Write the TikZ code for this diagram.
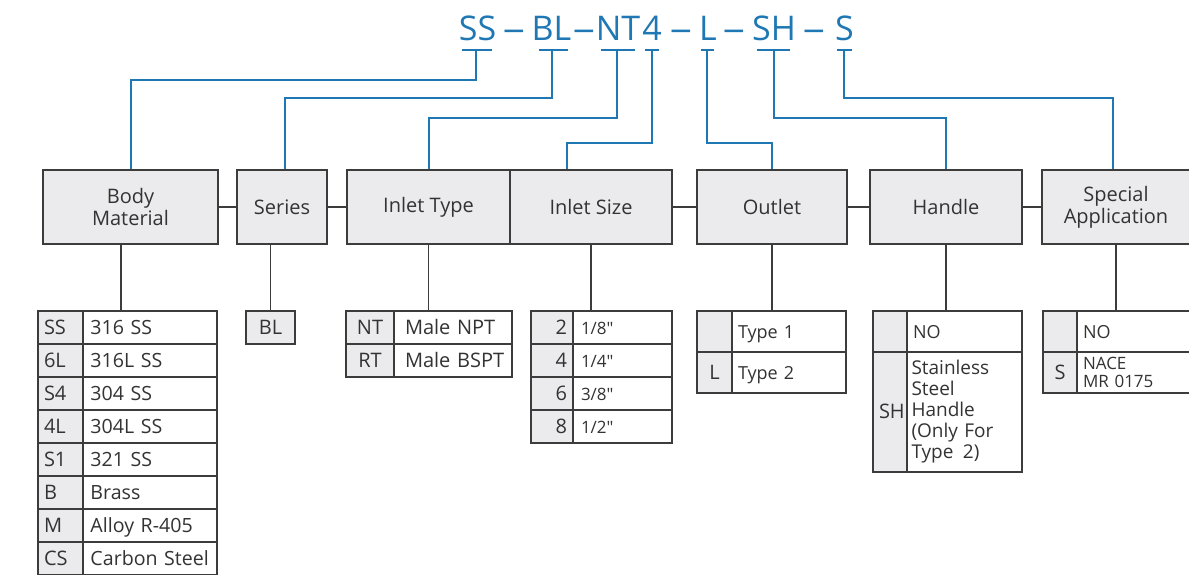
\documentclass[tikz,border=0pt]{standalone}
\usepackage{fontspec}
\setmainfont{Open Sans}
\usetikzlibrary{positioning}
\definecolor{codeblue}{HTML}{1F78B4}
\definecolor{linegray}{HTML}{3C3C3C}
\definecolor{boxgray}{HTML}{EBEBED}
\definecolor{txtgray}{HTML}{333333}
\tikzset{
  code/.style={text=codeblue, font=\fontsize{17}{20}\selectfont, inner sep=0, anchor=base},
  link/.style={draw=codeblue, line width=1pt},
  rule/.style={draw=linegray, line width=0.75pt},
  head/.style={draw=linegray, fill=boxgray, text=txtgray, line width=0.75pt, minimum height=37pt, inner sep=0, align=center, font=\fontsize{10}{11}\selectfont},
  cell/.style={draw=linegray, line width=0.75pt, text=txtgray, inner ysep=0, inner xsep=3pt, outer sep=0pt, minimum height=16.5pt, font=\fontsize{10}{11}\selectfont},
  key/.style={cell, fill=boxgray, anchor=north west, text height=1.5ex, text depth=.25ex},
  val/.style={cell, fill=white, align=left, text height=1.5ex, text depth=.25ex},
}
\begin{document}
\begin{tikzpicture}[x=0.5pt,y=-0.5pt]
    \clip (0,0) rectangle (1189,574);
    % The order code along the top.
        \node[code] (cSS) at (477.5,40) {SS};
        \node[code] (cBL) at (551.5,40) {BL};
        \node[code] (cNT) at (618,40) {NT};
        \node[code] (cFour) at (652,40) {4};
        \node[code] (cL) at (708,40) {L};
        \node[code] (cSH) at (774,40) {SH};
        \node[code] (cS) at (844.5,40) {S};
        \foreach \x in {514,584,681,734,814}
            \node[code] (dash\x) at (\x,40) {\scalebox{1.3}[1]{–}};
    % Bars under each part of the code.
        \foreach \a/\b in {462/492,539/568,601/635,645/659,701/714,757/790,837/852}
            \draw[link] (\a,50) -- (\b,50);
        \coordinate (tSS) at (476,50);
        \coordinate (tBL) at (552,50);
        \coordinate (tNT) at (617,50);
        \coordinate (tFour) at (652,50);
        \coordinate (tL) at (707,50);
        \coordinate (tSH) at (774,50);
        \coordinate (tS) at (844,50);
    % The heading boxes.
        \node[head, minimum width=87.5pt] (body) at (130.5,207) {Body\\Material};
        \node[head, minimum width=45pt] (series) at (282,207) {Series};
        \node[head, minimum width=81.5pt] (itype) at (428.5,207) {Inlet Type};
        \node[head, minimum width=81pt] (isize) at (591,207) {Inlet Size};
        \node[head, minimum width=75pt] (outlet) at (772,207) {Outlet};
        \node[head, minimum width=76pt] (handle) at (946,207) {Handle};
        \node[head, minimum width=74pt] (special) at (1116,207) {Special\\Application};
        \draw[rule] (body) -- (series);
        \draw[rule] (series) -- (itype);
        \draw[rule] (isize) -- (outlet);
        \draw[rule] (outlet) -- (handle);
        \draw[rule] (handle) -- (special);
    % Blue lines from the code down to the headings.
        \draw[link] (tSS) -- ++(0,30) -| (body.north);
        \draw[link] (tBL) -- ++(0,48) -| ([xshift=1.5pt]series.north);
        \draw[link] (tNT) -- ++(0,68) -| (itype.north);
        \draw[link] (tFour) -- ++(0,93) -| ([xshift=-12pt]isize.north);
        \draw[link] (tL) -- ++(0,93) -| (outlet.north);
        \draw[link] (tSH) -- ++(0,68) -| (handle.north);
        \draw[link] (tS) -- ++(0,48) -| ([xshift=-1.5pt]special.north);
    % Body material table.
        \foreach \k/\v [count=\i] in {SS/316 SS, 6L/316L SS, S4/304 SS, 4L/304L SS, S1/321 SS, B/Brass, M/Alloy R-405, CS/Carbon Steel} {
            \node[key, text width=16.5pt, align=left] (bmk\i) at (38,{311+33*(\i-1)}) {\k};
            \node[val, text width=62.5pt, inner xsep=2.25pt, font=\fontsize{9.8}{11}\selectfont, right=0pt of bmk\i] (bmv\i) {\hspace{1.5pt}\v};
        }
        \coordinate (bmtop) at (121,311);
        \draw[rule] (bmtop) -- (bmtop |- body.south);
    % Series.
        \node[key, minimum width=24.5pt, anchor=center] (bl) at (270.5,327.5) {BL};
        \draw[rule] (bl) -- (bl |- series.south);
    % Inlet type table.
        \foreach \k/\v [count=\i] in {NT/Male NPT, RT/Male BSPT} {
            \node[key, text width=18pt, align=center] (itk\i) at (346,{311+33*(\i-1)}) {\k};
            \node[val, text width=53pt, right=0pt of itk\i] (itv\i) {\hspace{2.5pt}\v};
        }
        \draw[rule] (itype) -- (itype |- itk1.north);
    % Inlet size table.
        \foreach \k/\v [count=\i] in {2/{1/8}, 4/{1/4}, 6/{3/8}, 8/{1/2}} {
            \node[key, text width=15pt, align=right] (isk\i) at (531,{311+33*(\i-1)}) {\k};
            \node[val, text width=43.5pt, font=\fontsize{8.5}{10}\selectfont, right=0pt of isk\i] (isv\i) {\hspace{1pt}\v\textquotedbl};
        }
        \draw[rule] (isize) -- (isize |- isk1.north);
    % Outlet table.
        \foreach \k/\v [count=\i] in {/Type 1, L/Type 2} {
            \node[key, minimum height=20.5pt, text width=11.5pt, align=center] (ok\i) at (697,{311+41*(\i-1)}) {\k};
            \node[val, minimum height=20.5pt, text width=51pt, font=\fontsize{9}{10}\selectfont, right=0pt of ok\i] (ov\i) {\v};
        }
        \draw[rule] (outlet) -- (outlet |- ok1.north);
    % Handle table.
        \node[key, minimum height=20.5pt, text width=11pt, align=center] (hk1) at (873,311) {};
        \node[val, minimum height=20.5pt, text width=51.5pt, font=\fontsize{9}{10}\selectfont, right=0pt of hk1] (hv1) {NO};
        \node[key, minimum height=60pt, text width=11pt, align=center] (hk2) at (873,352) {SH};
        \node[cell, fill=white, align=left, minimum height=60pt, text width=53pt, inner xsep=2.25pt, font=\fontsize{9.5}{10.5}\selectfont, right=0pt of hk2] (hv2) {Stainless\\Steel\\Handle\\(Only For\\Type\ \,2)};
        \draw[rule] (handle) -- (handle |- hk1.north);
    % Special application table.
        \node[key, minimum height=20.5pt, text width=11pt, align=center] (sk1) at (1043,311) {};
        \node[val, minimum height=20.5pt, text width=53pt, font=\fontsize{9}{10}\selectfont, right=0pt of sk1] (sv1) {NO};
        \node[key, minimum height=20.5pt, text width=11pt, align=center] (sk2) at (1043,352) {S};
        \node[cell, fill=white, align=left, minimum height=20.5pt, text width=53pt, font=\fontsize{8.5}{9}\selectfont, right=0pt of sk2] (sv2) {NACE\\MR 0175};
        \draw[rule] (special) -- (special |- sk1.north);
\end{tikzpicture}
\end{document}
